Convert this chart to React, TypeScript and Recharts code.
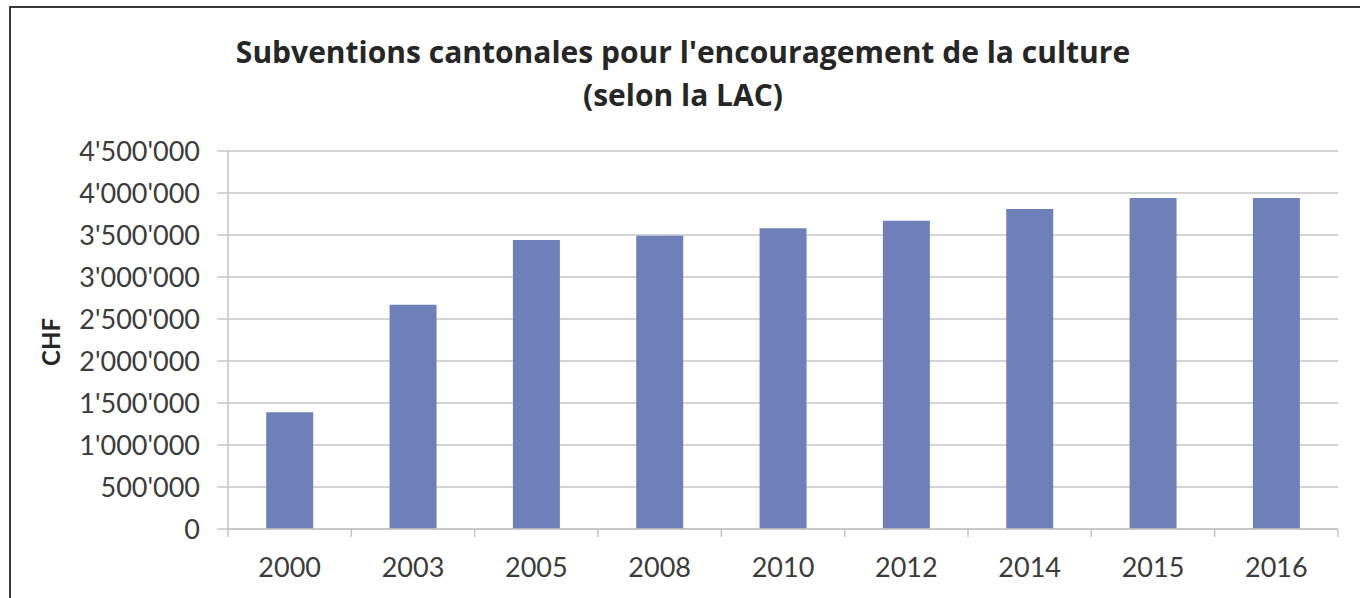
import { BarChart, Bar, XAxis, YAxis, CartesianGrid } from "recharts";

const years = ["2000", "2003", "2005", "2008", "2010", "2012", "2014", "2015", "2016"];
const subventions = [1390000, 2670000, 3440000, 3490000, 3580000, 3670000, 3810000, 3940000, 3940000];
const yTicks = [0, 500000, 1000000, 1500000, 2000000, 2500000, 3000000, 3500000, 4000000, 4500000];

const W = 1360;
const H = 598;
const MARGIN = { top: 151, right: 22, bottom: 0, left: 0 };
const Y_AXIS_W = 228;
const X_AXIS_H = 69;
const BAND = (W - MARGIN.right - Y_AXIS_W) / years.length;

const FONT = "Lato, 'Open Sans', sans-serif";
const TITLE_FONT = "'Open Sans', Lato, sans-serif";
const GRID = "#c4c4c4";
const TEXT = "#3b3b3b";

const data = years.map((year, i) => ({ year, value: subventions[i] }));

// 1234567 -> 1'234'567
function swissNumber(v: number): string {
  return String(v).replace(/\B(?=(\d{3})+(?!\d))/g, "'");
}

// Excel style: tick marks sit between categories, labels in the middle
function YearTick(props: any) {
  const { x, y, payload, index } = props;
  const last = index === years.length - 1;
  return (
    <g>
      <line x1={x - BAND / 2} y1={y} x2={x - BAND / 2} y2={y + 8} stroke={GRID} strokeWidth={1.5} />
      {last && (
        <line x1={x + BAND / 2} y1={y} x2={x + BAND / 2} y2={y + 8} stroke={GRID} strokeWidth={1.5} />
      )}
      <text x={x} y={y + 48} textAnchor="middle" fill={TEXT} fontSize={27} fontFamily={FONT}>
        {payload.value}
      </text>
    </g>
  );
}

export default function App() {
  return (
    <div
      style={{
        position: "absolute",
        left: 0,
        top: 0,
        width: W,
        height: H,
        background: "#fff",
        overflow: "hidden",
        fontFamily: FONT,
      }}
    >
      <div
        style={{
          position: "absolute",
          left: 9,
          top: 6,
          width: W + 20,
          height: H + 20,
          borderTop: "2px solid #3a3a3a",
          borderLeft: "2px solid #3a3a3a",
        }}
      />
      <div
        style={{
          position: "absolute",
          left: 3,
          top: 30,
          width: W,
          textAlign: "center",
          fontFamily: TITLE_FONT,
          fontWeight: 700,
          fontSize: 30,
          lineHeight: "43px",
          color: "#262626",
        }}
      >
        Subventions cantonales pour l'encouragement de la culture
        <br />
        (selon la LAC)
      </div>
      <div
        style={{
          position: "absolute",
          left: 50,
          top: 342,
          transform: "translate(-50%, -50%) rotate(-90deg)",
          fontWeight: 700,
          fontSize: 24,
          color: "#262626",
        }}
      >
        CHF
      </div>
      <BarChart
        width={W}
        height={H}
        data={data}
        margin={MARGIN}
        barCategoryGap="31%"
      >
        <CartesianGrid vertical={false} stroke={GRID} strokeWidth={1.5} />
        <XAxis
          dataKey="year"
          height={X_AXIS_H}
          interval={0}
          tickSize={0}
          tickMargin={0}
          tickLine={false}
          axisLine={{ stroke: GRID, strokeWidth: 1.5 }}
          tick={<YearTick />}
        />
        <YAxis
          width={Y_AXIS_W}
          domain={[0, 4500000]}
          ticks={yTicks}
          interval={0}
          tickSize={11}
          tickMargin={17}
          tickLine={{ stroke: GRID, strokeWidth: 1.5 }}
          axisLine={{ stroke: GRID, strokeWidth: 1.5 }}
          tickFormatter={swissNumber}
          tick={{ fill: TEXT, fontSize: 27, fontFamily: FONT }}
        />
        <Bar dataKey="value" fill="#6E80B9" isAnimationActive={false} />
      </BarChart>
    </div>
  );
}
